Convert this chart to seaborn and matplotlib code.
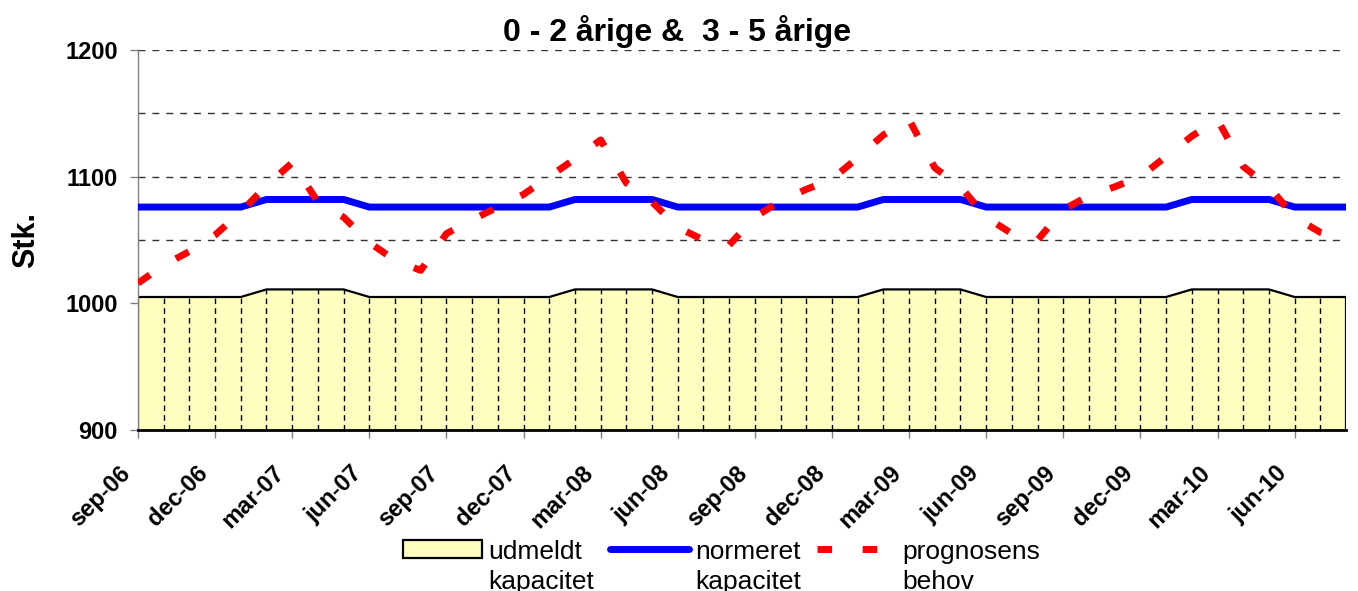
import numpy as np
import pandas as pd
import seaborn as sns
import matplotlib.pyplot as plt
import matplotlib.transforms as mtransforms
from matplotlib.patches import Patch
from matplotlib.lines import Line2D
from matplotlib.legend_handler import HandlerPatch, HandlerLine2D
from matplotlib.ticker import MultipleLocator

sns.set_style("ticks")
plt.rcParams['font.family'] = ['Liberation Sans', 'DejaVu Sans']
plt.rcParams.update({'text.color': 'black', 'axes.labelcolor': 'black',
                     'xtick.color': 'black', 'ytick.color': 'black'})

# maaneder sep-06 .. aug-10
months = ["sep-06", "okt-06", "nov-06", "dec-06", "jan-07", "feb-07", "mar-07", "apr-07",
          "maj-07", "jun-07", "jul-07", "aug-07", "sep-07", "okt-07", "nov-07", "dec-07",
          "jan-08", "feb-08", "mar-08", "apr-08", "maj-08", "jun-08", "jul-08", "aug-08",
          "sep-08", "okt-08", "nov-08", "dec-08", "jan-09", "feb-09", "mar-09", "apr-09",
          "maj-09", "jun-09", "jul-09", "aug-09", "sep-09", "okt-09", "nov-09", "dec-09",
          "jan-10", "feb-10", "mar-10", "apr-10", "maj-10", "jun-10", "jul-10", "aug-10"]

udmeldt = [1005, 1005, 1005, 1005, 1005, 1011, 1011, 1011, 1011, 1005, 1005, 1005,
           1005, 1005, 1005, 1005, 1005, 1011, 1011, 1011, 1011, 1005, 1005, 1005,
           1005, 1005, 1005, 1005, 1005, 1011, 1011, 1011, 1011, 1005, 1005, 1005,
           1005, 1005, 1005, 1005, 1005, 1011, 1011, 1011, 1011, 1005, 1005, 1005]

normeret = [1076, 1076, 1076, 1076, 1076, 1082, 1082, 1082, 1082, 1076, 1076, 1076,
            1076, 1076, 1076, 1076, 1076, 1082, 1082, 1082, 1082, 1076, 1076, 1076,
            1076, 1076, 1076, 1076, 1076, 1082, 1082, 1082, 1082, 1076, 1076, 1076,
            1076, 1076, 1076, 1076, 1076, 1082, 1082, 1082, 1082, 1076, 1076, 1076]

prognose = [1016, 1030, 1041, 1054, 1072, 1093, 1111, 1080, 1068, 1048, 1034, 1026,
            1055, 1066, 1076, 1086, 1100, 1114, 1129, 1095, 1080, 1060, 1050, 1046,
            1068, 1081, 1090, 1098, 1115, 1133, 1145, 1107, 1092, 1068, 1055, 1050,
            1074, 1085, 1092, 1100, 1116, 1132, 1145, 1108, 1092, 1068, 1056, 1050]

df = pd.DataFrame({"maaned": np.arange(len(months)), "udmeldt": udmeldt,
                   "normeret": normeret, "prognose": prognose})
x = df["maaned"].values

fig = plt.figure(figsize=(13.58, 5.91), dpi=100)
ax = fig.add_axes([0.1016, 0.2724, 0.8896, 0.643])
ax.set_xlim(x[0], x[-1])
ax.set_ylim(900, 1200)

# gitterlinjer
ax.yaxis.set_major_locator(MultipleLocator(100))
ax.yaxis.set_minor_locator(MultipleLocator(50))
ax.grid(axis='y', which='both', color='#333333', lw=1, linestyle=(0, (5, 5)))
ax.set_axisbelow(True)

# udmeldt kapacitet (areal)
ax.fill_between(x, 900, df["udmeldt"], facecolor='#FFFFC0', edgecolor='none', zorder=1)
ax.plot(x, df["udmeldt"], color='black', lw=1.6, zorder=2)
ax.vlines(x[1:-1], 900, df["udmeldt"].values[1:-1], colors='black', lw=1,
          linestyles=[(0, (4, 3))], zorder=2)
ax.vlines([x[0], x[-1]], 900, [udmeldt[0], udmeldt[-1]], colors='black', lw=1.6, zorder=2)

sns.lineplot(data=df, x="maaned", y="normeret", color='#0000FF', lw=5, ax=ax, zorder=3)
sns.lineplot(data=df, x="maaned", y="prognose", color='#FF0000', lw=5,
             linestyle=(0, (2.1, 4.4)), ax=ax, zorder=4)

ax.set_xlabel("")
ax.set_ylabel("Stk.", fontsize=22, fontweight='bold')
ax.yaxis.set_label_coords(-0.08, 0.5)

ax.set_xticks(x[::3])
ax.set_xticklabels(months[::3], rotation=45, ha='right', va='center',
                   rotation_mode='anchor', fontsize=17, fontweight='bold')
ax.tick_params(axis='x', length=5.5, width=1, color='#808080', pad=23)
ax.tick_params(axis='y', which='major', length=5.8, width=1, color='#808080',
               pad=8.6, labelsize=17)
ax.tick_params(axis='y', which='minor', length=0)
for t in ax.get_yticklabels():
    t.set_fontweight('bold')
shift = mtransforms.ScaledTranslation(-8 / 72, 0, fig.dpi_scale_trans)
for t in ax.get_xticklabels():
    t.set_transform(t.get_transform() + shift)

sns.despine(ax=ax)
ax.spines['left'].set_color('#808080')
ax.spines['left'].set_linewidth(1)
ax.spines['bottom'].set_color('black')
ax.spines['bottom'].set_linewidth(2)

fig.text(0.4985, 1 - 41 / 591, "0 - 2 årige &  3 - 5 årige", ha='center',
         va='baseline', fontsize=23, fontweight='bold')


# legend handles aligned to first text line
LEG_FS = 19
UP = 0.68 * LEG_FS


class TopPatch(HandlerPatch):
    def create_artists(self, legend, orig_handle, xd, yd, w, h, fs, trans):
        return super().create_artists(legend, orig_handle, xd, yd, w, h, fs,
                                      mtransforms.Affine2D().translate(0, UP) + trans)


class TopLine(HandlerLine2D):
    def create_artists(self, legend, orig_handle, xd, yd, w, h, fs, trans):
        return super().create_artists(legend, orig_handle, xd, yd, w, h, fs,
                                      mtransforms.Affine2D().translate(0, UP) + trans)


h_area = Patch(facecolor='#FFFFC0', edgecolor='black', lw=1.6)
h_norm = Line2D([], [], color='#0000FF', lw=5, solid_capstyle='round')
h_prog = Line2D([], [], color='#FF0000', lw=5, linestyle=(0, (2.1, 4.4)))
labels = ["udmeldt\nkapacitet", "normeret\nkapacitet", "prognosens\nbehov"]
leg = fig.legend([h_area, h_norm, h_prog], labels, loc='upper left',
                 bbox_to_anchor=(403 / 1358, 1 - 540 / 591),
                 ncol=3, frameon=False, fontsize=LEG_FS, handlelength=3.0,
                 handletextpad=0.23, columnspacing=0.61, borderpad=0, borderaxespad=0,
                 handler_map={h_area: TopPatch(), h_norm: TopLine(), h_prog: TopLine()})
for t in leg.get_texts():
    t.set_linespacing(1.3)

fig.savefig("out.png", dpi=100)
